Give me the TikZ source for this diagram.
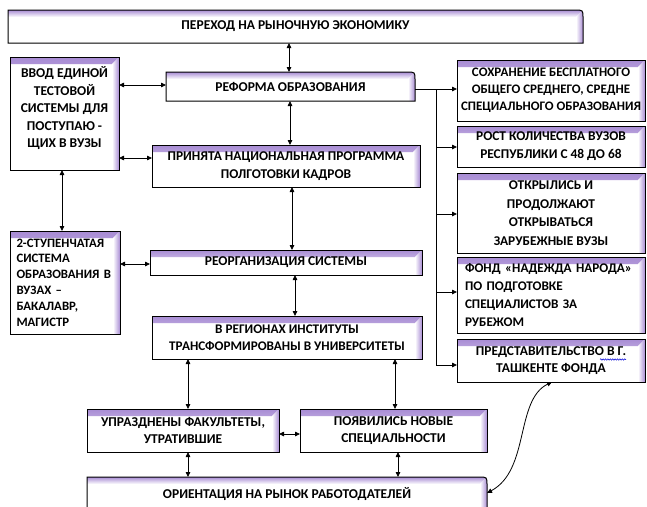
\documentclass[tikz,border=0pt]{standalone}
\usepackage{fontspec}
\setmainfont{Carlito}
\usetikzlibrary{arrows.meta,decorations.pathmorphing}
\definecolor{glowc}{RGB}{168,140,212}
\newcommand\ppb{path picture bounding box}
\newcommand\myglow{%
  \shade[top color=glowc, bottom color=white] (\ppb.north west) -- (\ppb.north east) -- ([shift={(-7pt,-7pt)}]\ppb.north east) -- ([yshift=-7pt]\ppb.north west) -- cycle;
  \shade[left color=white, right color=glowc] (\ppb.north east) -- (\ppb.south east) -- ([xshift=-7pt]\ppb.south east) -- ([shift={(-7pt,-7pt)}]\ppb.north east) -- cycle;}
\newcommand\rtcborder[1]{\draw[border] (#1.south west) -- (#1.north west) -- ([xshift=-8pt]#1.north east) .. controls (#1.north east) .. ([yshift=-8pt]#1.north east) -- (#1.south east) -- cycle;}
\newcommand\fs[2]{\bfseries\fontsize{#1}{#2}\selectfont}
\begin{document}
\begin{tikzpicture}[x=1pt,y=-1pt,
  border/.style={draw=black, line width=1pt},
  box/.style={border, fill=white, anchor=north west, outer sep=0pt, inner sep=3pt,
    font=\fs{13.5}{17.5}, align=center,
    path picture={\myglow}},
  rbox/.style={box, draw=none, path picture={%
    \clip (\ppb.south west) -- (\ppb.north west) -- ([xshift=-8pt]\ppb.north east) .. controls (\ppb.north east) .. ([yshift=-8pt]\ppb.north east) -- (\ppb.south east) -- cycle;
    \myglow}},
  conn/.style={{Triangle[length=5pt,width=4.5pt]}-{Triangle[length=5pt,width=4.5pt]}, line width=0.8pt},
  one/.style={-{Triangle[length=5pt,width=4.5pt]}, line width=0.8pt},
  plain/.style={line width=0.8pt}]
\useasboundingbox (0,0) rectangle (647,506);

\node[rbox, minimum width=575pt, minimum height=33pt] (n1) at (8,10) {ПЕРЕХОД НА РЫНОЧНУЮ ЭКОНОМИКУ};
\rtcborder{n1}
\node[box, minimum width=109pt, minimum height=113pt] (n2) at (10,57) {ВВОД ЕДИНОЙ\\ТЕСТОВОЙ\\СИСТЕМЫ ДЛЯ\\ПОСТУПАЮ -\\ЩИХ В ВУЗЫ\\[-5pt]~};
\node[rbox, minimum width=249pt, minimum height=29pt] (n3) at (166,72) {РЕФОРМА ОБРАЗОВАНИЯ};
\rtcborder{n3}
\node[box, minimum width=268pt, minimum height=42pt, font=\fs{13.4}{18}] (n4) at (152,145) {ПРИНЯТА НАЦИОНАЛЬНАЯ ПРОГРАММА\\ПОЛГОТОВКИ КАДРОВ};
\node[box, minimum width=110pt, minimum height=103pt, text width=97pt, align=left, font=\fs{12.8}{15.8}] (n5) at (10,231) {2-СТУПЕНЧАТАЯ\\СИСТЕМА\\ОБРАЗОВАНИЯ В\\ВУЗАХ –\\БАКАЛАВР,\\МАГИСТР};
\node[box, minimum width=272pt, minimum height=25pt] (n6) at (150,250) {РЕОРГАНИЗАЦИЯ СИСТЕМЫ};
\node[box, minimum width=270pt, minimum height=43pt, font=\fs{13.2}{17}] (n7) at (152,316) {В РЕГИОНАХ ИНСТИТУТЫ\\ТРАНСФОРМИРОВАНЫ В УНИВЕРСИТЕТЫ};
\node[box, minimum width=188pt, minimum height=61pt, inner sep=2pt, font=\fs{13}{17}] (n8) at (457,60) {СОХРАНЕНИЕ БЕСПЛАТНОГО\\ОБЩЕГО СРЕДНЕГО, СРЕДНЕ\\СПЕЦИАЛЬНОГО ОБРАЗОВАНИЯ};
\node[box, minimum width=188pt, minimum height=41pt, font=\fs{13.4}{18}] (n9) at (457,126) {РОСТ КОЛИЧЕСТВА ВУЗОВ\\РЕСПУБЛИКИ С 48 ДО 68};
\node[box, minimum width=188pt, minimum height=80pt, font=\fs{13.4}{18.5}] (n10) at (457,173) {ОТКРЫЛИСЬ И\\ПРОДОЛЖАЮТ\\ОТКРЫВАТЬСЯ\\ЗАРУБЕЖНЫЕ ВУЗЫ};
\node[box, minimum width=188pt, minimum height=76pt, text width=172pt, align=left, font=\fs{13.2}{18}] (n11) at (457,257) {ФОНД «НАДЕЖДА НАРОДА»\\ПО ПОДГОТОВКЕ\\СПЕЦИАЛИСТОВ ЗА\\РУБЕЖОМ};
\node[box, minimum width=188pt, minimum height=43pt, font=\fs{13.5}{16.5}] (n12) at (457,339) {ПРЕДСТАВИТЕЛЬСТВО В Г.\\ТАШКЕНТЕ ФОНДА};
\node[box, minimum width=192pt, minimum height=43pt, font=\fs{13.5}{16.5}] (n13) at (87,409) {УПРАЗДНЕНЫ ФАКУЛЬТЕТЫ,\\УТРАТИВШИЕ};
\node[box, minimum width=187pt, minimum height=43pt, font=\fs{13.5}{16.5}] (n14) at (300,409) {ПОЯВИЛИСЬ НОВЫЕ\\СПЕЦИАЛЬНОСТИ};
\node[rbox, minimum width=400pt, minimum height=34pt] (n15) at (87,477) {ОРИЕНТАЦИЯ НА РЫНОК РАБОТОДАТЕЛЕЙ};
\rtcborder{n15}

% spell-check underline
\draw[blue!85!black, line width=0.5pt, decorate, decoration={snake, amplitude=0.7pt, segment length=2.4pt}] (600,359.5) -- (626,359.5);

% connectors
\draw[conn] (n3.north -| 289,0) -- (n1.south -| 289,0);
\draw[conn] (n2.east |- 0,85) -- (n3.west |- 0,85);
\draw[conn] (n3.south -| 290,0) -- (n4.north -| 290,0);
\draw[conn] (n2.east |- 0,158) -- (n4.west |- 0,158);
\draw[conn] (n2.south -| 62,0) -- (n5.north -| 62,0);
\draw[conn] (n4.south -| 292,0) -- (n6.north -| 292,0);
\draw[conn] (n5.east |- 0,264) -- (n6.west |- 0,264);
\draw[conn] (n6.south -| 295,0) -- (n7.north -| 295,0);
\draw[conn] (n7.south -| 188,0) -- (n13.north -| 188,0);
\draw[conn] (n7.south -| 395,0) -- (n14.north -| 395,0);
\draw[conn] (n13.east |- 0,434) -- (n14.west |- 0,434);
\draw[conn] (n13.south -| 188,0) -- (n15.north -| 188,0);
\draw[conn] (n14.south -| 398,0) -- (n15.north -| 398,0);
\draw[conn] (n12.south -| 552,0) .. controls (515,400) and (530,470) .. (n15.east |- 0,493);

% bus
\coordinate (b0) at (436,89);
\coordinate (b1) at (436,147);
\coordinate (b2) at (436,214);
\coordinate (b3) at (436,292);
\coordinate (b4) at (436,365);
\draw[one] (n3.east |- b0) -- (n8.west |- b0);
\draw[plain] (b0) -- (b4);
\draw[one] (b4) -- (n12.west |- b4);
\draw[one] (b1) -- (n9.west |- b1);
\draw[one] (b2) -- (n10.west |- b2);
\draw[one] (b3) -- (n11.west |- b3);
\end{tikzpicture}
\end{document}
